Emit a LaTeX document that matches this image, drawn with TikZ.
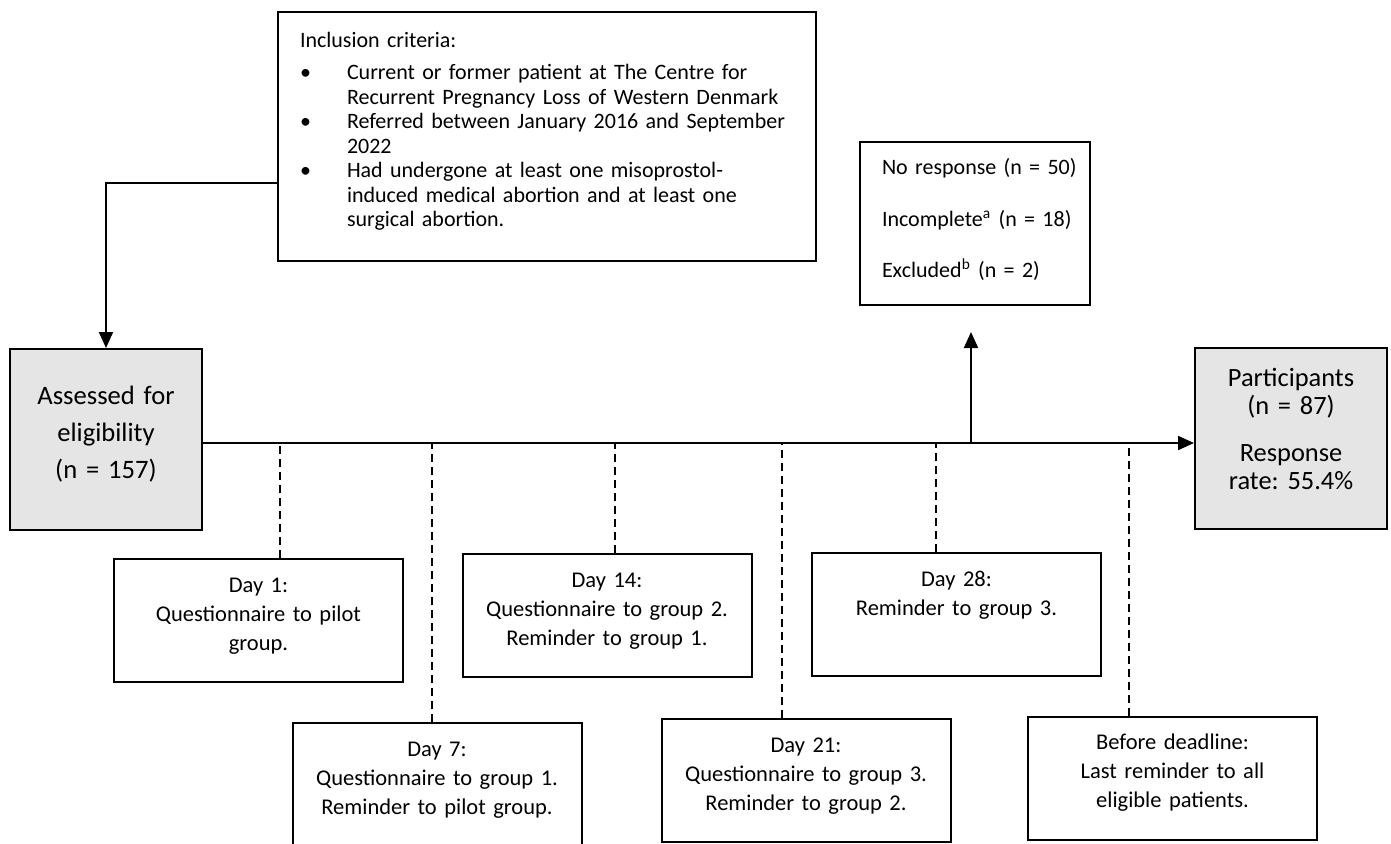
\documentclass[tikz,border=0pt]{standalone}
\usepackage{fontspec}
\setmainfont{Carlito}
\frenchspacing
\usetikzlibrary{positioning, arrows.meta}
\newcommand{\critlabel}[1]{#1\hfil}
\newenvironment{critlist}{%
	\begin{list}{\textbullet}{\setlength\leftmargin{23.5pt}\setlength\labelwidth{23.5pt}%
		\setlength\labelsep{0pt}\setlength\topsep{3.75pt}\setlength\partopsep{0pt}%
		\setlength\itemsep{0pt}\setlength\parsep{0pt}\let\makelabel\critlabel}}%
	{\end{list}}
\tikzset{
	crit/.style={draw, line width=1pt, text width=247pt, inner xsep=11pt, inner ysep=0pt, text height=17.75pt, text depth=106.75pt, align=left, font=\fontsize{11pt}{12.25pt}\selectfont},
	count/.style={draw, line width=1pt, fill=black!10, text width=96pt, inner sep=0pt, align=center, font=\fontsize{13.3pt}{18.5pt}\selectfont},
	lost/.style={draw, line width=1pt, text width=93pt, inner xsep=11pt, inner ysep=0pt, text height=16.25pt, text depth=65.25pt, align=left, font=\fontsize{11pt}{25.75pt}\selectfont},
	% boxes of the mailing schedule
	day/.style={draw, line width=1pt, text width=144.5pt, inner sep=0pt, text height=16.5pt, text depth=45pt, align=center, font=\fontsize{11.25pt}{14.5pt}\selectfont},
	daytick/.style={draw, line width=0.6pt, dash pattern=on 4pt off 2.5pt},
}

\begin{document}
\begin{tikzpicture}[x=0.5pt, y=-0.5pt]
	\useasboundingbox (0,0) rectangle (1391,843);
	
	\node (incl) [crit] at (547,136.5) {Inclusion criteria:
		\begin{critlist}
			\item \mbox{Current or former patient at The Centre for}\\ \mbox{Recurrent Pregnancy Loss of Western Denmark}
			\item \mbox{Referred between January 2016 and September}\\ 2022
			\item \mbox{Had undergone at least one misoprostol-}\\ \mbox{induced medical abortion and at least one}\\ surgical abortion.
		\end{critlist}};
	
	\node (assess) [count, text height=27.5pt, text depth=63pt] at (106,439.5) {Assessed for\\ eligibility\\ (n = 157)};
	\node (part) [count, text height=19pt, text depth=71.5pt, font=\fontsize{13.2pt}{14pt}\selectfont] at (1291,438.5) {Participants\\ (n = 87)\\[9.5pt] Response\\ rate: 55.4\%};
	
	\node (excl) [lost] at (975,223.5) {\mbox{No response (n = 50)}\\ \mbox{Incomplete\textsuperscript{a} (n = 18)}\\ \mbox{Excluded\textsuperscript{b} (n = 2)}};
	\coordinate (exclarr) at (971,332);
	
	\node (day1) [day] at (258.5,620.5) {Day 1:\\ Questionnaire to pilot\\ group.};
	\node (day7) [day] at (437,784.5) {Day 7:\\ Questionnaire to group 1.\\ Reminder to pilot group.};
	\node (day14) [day] at (607,615.5) {Day 14:\\ Questionnaire to group 2.\\ Reminder to group 1.};
	\node (day21) [day] at (806,780.5) {Day 21:\\ Questionnaire to group 3.\\ Reminder to group 2.};
	\node (day28) [day] at (956.5,614.5) {Day 28:\\ Reminder to group 3.\\ \mbox{}};
	\node (last) [day] at (1172.5,778) {Before deadline:\\ Last reminder to all\\ eligible patients.};
	
	\coordinate (mainl) at ([yshift=-1.75pt]assess.east);
	
	\begin{scope}[line width=1pt, black, ->, >={Triangle[width=7pt, length=8pt]}]
		\draw ([yshift=-23.25pt]incl.west) -| (assess.north);
		\draw (mainl) -- (mainl -| part.west);
		\draw (exclarr |- mainl) -- (exclarr);
	\end{scope}
	
	\draw [daytick] ([xshift=10.75pt]day1.north) -- ([xshift=10.75pt]day1.north |- mainl);
	\draw [daytick] ([xshift=-2.5pt]day7.north) -- ([xshift=-2.5pt]day7.north |- mainl);
	\draw [daytick] ([xshift=4pt]day14.north) -- ([xshift=4pt]day14.north |- mainl);
	\draw [daytick] ([xshift=-12pt]day21.north) -- ([xshift=-12pt]day21.north |- mainl);
	\draw [daytick] ([xshift=-10.25pt]day28.north) -- ([xshift=-10.25pt]day28.north |- mainl);
	\draw [daytick] ([xshift=-21.75pt]last.north) -- ([xshift=-21.75pt]last.north |- mainl);
\end{tikzpicture}
\end{document}
